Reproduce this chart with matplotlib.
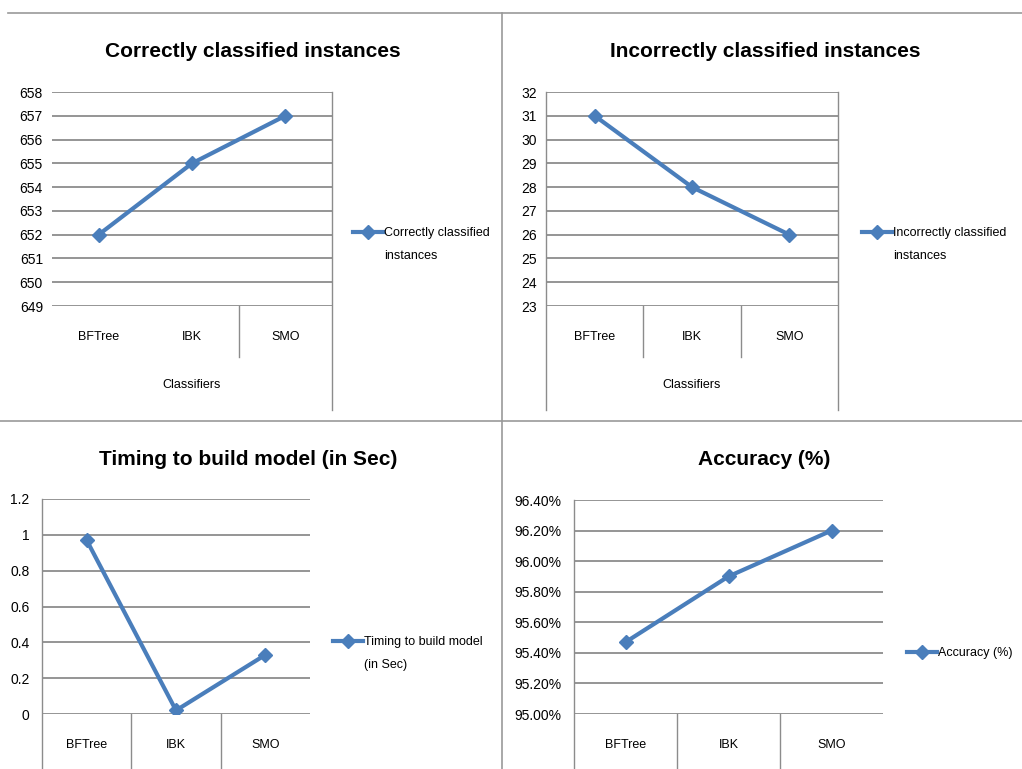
import matplotlib
matplotlib.use("Agg")
import matplotlib.pyplot as plt
from matplotlib.lines import Line2D
from matplotlib.ticker import FuncFormatter

classifiers = ["BFTree", "IBK", "SMO"]
correct = [652, 655, 657]
incorrect = [31, 28, 26]
build_time = [0.97, 0.02, 0.33]
accuracy = [95.47, 95.90, 96.20]

W, H = 1022, 769
plt.rcParams['font.family'] = ['Liberation Sans Narrow', 'Liberation Sans', 'DejaVu Sans']

LINE = '#4a7ebb'
GRID = '#8c8c8c'
fig = plt.figure(figsize=(W / 100, H / 100), dpi=100)


def px_axes(x0, y0, x1, y1):
    # pixel box (top-left origin) -> figure axes
    return fig.add_axes([x0 / W, 1 - y1 / H, (x1 - x0) / W, (y1 - y0) / H])


def vline(ax, x, top, bottom):
    ax.plot([x, x], [top, bottom], transform=ax.get_xaxis_transform(),
            color=GRID, lw=1, clip_on=False)


def make_panel(box, values, yticks, fmt, pad, title, title_xy, leg_xy, leg_lines):
    ax = px_axes(*box)
    ax.plot(range(len(classifiers)), values, color=LINE, lw=3, marker='D', ms=7,
            label=leg_lines[0])
    ax.set_xlim(-0.5, len(classifiers) - 0.5)
    ax.set_ylim(yticks[0], yticks[-1])
    ax.set_yticks(yticks)
    ax.yaxis.set_major_formatter(FuncFormatter(fmt))
    ax.set_xticks(range(len(classifiers)))
    ax.set_xticklabels(classifiers)
    ax.tick_params(axis='y', length=0, pad=pad, labelsize=10)
    ax.tick_params(axis='x', length=0, pad=18, labelsize=9)
    ax.grid(axis='y', color=GRID, lw=1.3)
    ax.set_axisbelow(True)
    for s in ax.spines.values():
        s.set_visible(False)
    fig.text(title_xy[0] / W, 1 - title_xy[1] / H, title, ha='center', va='baseline',
             fontsize=15, fontweight='bold')
    ax.legend(loc='center left', bbox_to_anchor=(leg_xy[0] / W, 1 - leg_xy[1] / H),
              bbox_transform=fig.transFigure, frameon=False, fontsize=9,
              handlelength=2.4, handletextpad=0.1, borderpad=0, borderaxespad=0)
    if len(leg_lines) > 1:
        fig.text((leg_xy[0] + 31) / W, 1 - (leg_xy[1] + 23) / H, leg_lines[1],
                 ha='left', va='center', fontsize=9)
    return ax


# top-left
ax1 = make_panel((52, 92, 332, 306), correct, list(range(649, 659)),
                 lambda v, p: f"{v:.0f}", 6.5,
                 "Correctly classified instances", (253, 57), (353, 233),
                 ["Correctly classified", "instances"])
ax1.set_xlabel("Classifiers", fontsize=9, labelpad=26)
vline(ax1, 1.5, 0, -0.238)
vline(ax1, 2.5, 1, -0.486)

# top-right
ax2 = make_panel((546, 92, 838, 306), incorrect, list(range(23, 33)),
                 lambda v, p: f"{v:.0f}", 6.5,
                 "Incorrectly classified instances", (765, 57), (862, 233),
                 ["Incorrectly classified", "instances"])
ax2.set_xlabel("Classifiers", fontsize=9, labelpad=26)
vline(ax2, -0.5, 1, -0.486)
vline(ax2, 0.5, 0, -0.238)
vline(ax2, 1.5, 0, -0.238)
vline(ax2, 2.5, 1, -0.486)

# bottom-left
ax3 = make_panel((42, 499, 310, 714), build_time, [0, 0.2, 0.4, 0.6, 0.8, 1.0, 1.2],
                 lambda v, p: f"{v:g}", 9,
                 "Timing to build model (in Sec)", (248, 465), (333, 642),
                 ["Timing to build model", "(in Sec)"])
vline(ax3, -0.5, 1, -0.26)
vline(ax3, 0.5, 0, -0.26)
vline(ax3, 1.5, 0, -0.26)

# bottom-right
ax4 = make_panel((574, 500, 883, 714), accuracy,
                 [95.0, 95.2, 95.4, 95.6, 95.8, 96.0, 96.2, 96.4],
                 lambda v, p: f"{v:.2f}%", 9,
                 "Accuracy (%)", (764, 465), (907, 653),
                 ["Accuracy (%)"])
vline(ax4, -0.5, 1, -0.26)
vline(ax4, 0.5, 0, -0.26)
vline(ax4, 1.5, 0, -0.26)

# panel borders
for xs, ys in [((8, W), (13, 13)), ((0, W), (421, 421)), ((502, 502), (13, H))]:
    fig.add_artist(Line2D([x / W for x in xs], [1 - y / H for y in ys],
                          transform=fig.transFigure, color='#999999', lw=1.2))

fig.savefig("out.png", dpi=100)
